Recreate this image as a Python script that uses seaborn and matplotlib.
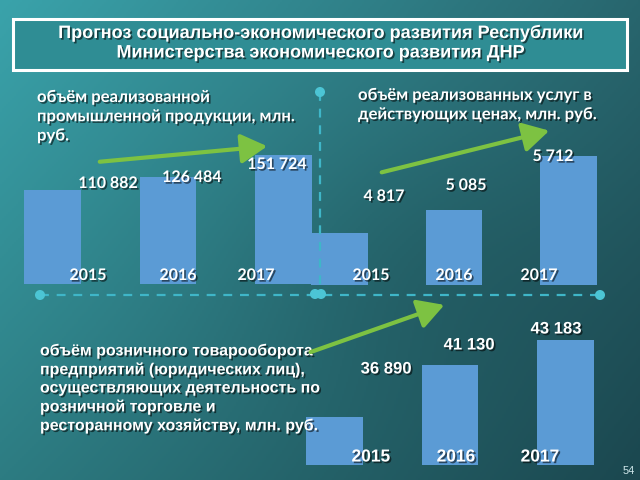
import numpy as np
import pandas as pd
import matplotlib
matplotlib.use("Agg")
import matplotlib.pyplot as plt
import matplotlib.patheffects as pe
from matplotlib.patches import Rectangle, FancyArrowPatch, Circle
from matplotlib.colors import to_rgb
import seaborn as sns

# ---------------- data ----------------
years = ["2015", "2016", "2017"]
industry = [110882, 126484, 151724]
services = [4817, 5085, 5712]
retail = [36890, 41130, 43183]
industry_labels = ["110 882", "126 484", "151 724"]
services_labels = ["4 817", "5 085", "5 712"]
retail_labels = ["36 890", "41 130", "43 183"]

title_lines = ["Прогноз социально-экономического развития Республики",
               "Министерства экономического развития ДНР"]
industry_title = "объём реализованной\nпромышленной продукции, млн.\nруб."
services_title = "объём реализованных услуг в\nдействующих ценах, млн. руб."
retail_title = ("объём розничного товарооборота\nпредприятий (юридических лиц),\n"
                "осуществляющих деятельность по\nрозничной торговле и\n"
                "ресторанному хозяйству, млн. руб.")
page_no = "54"

sns.set_theme(style="white")
W, H = 640, 480
fig = plt.figure(figsize=(6.4, 4.8), dpi=100)

# ---------------- background gradient ----------------
bg = fig.add_axes([0, 0, 1, 1], zorder=0)
tl, tr, bl, br = (np.array(to_rgb(c)) for c in ["#3aa3ab", "#28666e", "#2d7c82", "#1b474f"])
xx, yy = np.meshgrid(np.linspace(0, 1, 320), np.linspace(0, 1, 240))
img = ((1 - xx)[..., None] * (1 - yy)[..., None] * tl + xx[..., None] * (1 - yy)[..., None] * tr
       + (1 - xx)[..., None] * yy[..., None] * bl + xx[..., None] * yy[..., None] * br)
img *= (1 - 0.08 * np.exp(-((xx - 0.65) ** 2 + (yy - 0.55) ** 2) / 0.08))[..., None]
bg.imshow(np.clip(img, 0, 1), extent=[0, W, H, 0], aspect="auto")
bg.set_xlim(0, W); bg.set_ylim(H, 0); bg.axis("off")

BAR = "#5b9bd5"
SANS = ["Lato", "DejaVu Sans"]
NARROW = ["Liberation Sans", "DejaVu Sans"]
shadow = [pe.withSimplePatchShadow(offset=(1.2, -1.2), shadow_rgbFace="black", alpha=0.55)]


def bar_panel(values, c0, step, bottom_px, base, per_px, height_px=160):
    left = c0 - 0.5 * step
    width = 3 * step
    ax = fig.add_axes([left / W, (H - bottom_px) / H, width / W, height_px / H], zorder=2)
    ax.patch.set_alpha(0)
    df = pd.DataFrame({"year": years, "value": values})
    sns.barplot(data=df, x="year", y="value", color=BAR, saturation=1, width=0.49,
                linewidth=0, edgecolor="none", ax=ax)
    ax.set_xlim(-0.5, 2.5)
    ax.set_ylim(base, base + height_px * per_px)
    ax.axis("off")
    return ax


bar_panel(industry, 52.5, 115.5, 284, 0, 1180)
bar_panel(services, 339.5, 114.5, 285, 4214, 11.6)
bar_panel(retail, 334.5, 115.5, 465, 32968, 81.7)

# ---------------- overlay (pixel coordinates) ----------------
ov = fig.add_axes([0, 0, 1, 1], zorder=5)
ov.set_xlim(0, W); ov.set_ylim(H, 0); ov.axis("off"); ov.patch.set_alpha(0)

# title box
ov.add_patch(Rectangle((15, 21), 614, 51, facecolor="black", alpha=0.25, lw=0))
ov.add_patch(Rectangle((13, 19), 614, 51, facecolor="#2f8d94", edgecolor="white", lw=2.2))
for i, line in enumerate(title_lines):
    ov.text(320, 33 + i * 20, line, ha="center", va="center", color="white",
            fontsize=13, fontweight="bold", family=NARROW, path_effects=shadow)

# dashed guide lines
DASH = "#3fb6c8"
ov.plot([40, 600], [295, 295], color=DASH, lw=1.6, dashes=(4, 3.5))
ov.plot([320, 320], [92, 295], color=DASH, lw=1.6, dashes=(4, 3.5))
for (x, y) in [(40, 295), (600, 295), (320, 92), (315, 294), (321, 294)]:
    ov.add_patch(Circle((x, y), 4.3, color="#4cc5d5", zorder=6))

# panel titles
ov.text(37, 89, industry_title, ha="left", va="top", color="white", fontsize=12,
        fontweight="bold", family=SANS, linespacing=1.25, path_effects=shadow)
ov.text(358, 87, services_title, ha="left", va="top", color="white", fontsize=12,
        fontweight="bold", family=SANS, linespacing=1.25, path_effects=shadow)
ov.text(40, 343, retail_title, ha="left", va="top", color="white", fontsize=11.5,
        fontweight="bold", family=NARROW, linespacing=1.27, path_effects=shadow)

# value labels
for (x, y), s in zip([(108, 184), (192, 178), (277, 165)], industry_labels):
    ov.text(x, y, s, ha="center", va="center", color="white", fontsize=11.5,
            fontweight="bold", family=SANS, path_effects=shadow)
for (x, y), s in zip([(384, 197), (466, 186), (553, 157)], services_labels):
    ov.text(x, y, s, ha="center", va="center", color="white", fontsize=11.5,
            fontweight="bold", family=SANS, path_effects=shadow)
for (x, y), s in zip([(386, 369), (469, 345), (556, 329)], retail_labels):
    ov.text(x, y, s, ha="center", va="center", color="white", fontsize=12,
            fontweight="bold", family=NARROW, path_effects=shadow)

# year labels
for xs, y, fam, fs in [([88, 178, 256], 276, SANS, 11.5),
                       ([371, 454, 539], 276, SANS, 11.5),
                       ([371, 456, 540], 457, NARROW, 12.5)]:
    for x, yr in zip(xs, years):
        ov.text(x, y, yr, ha="center", va="center", color="white", fontsize=fs,
                fontweight="bold", family=fam, path_effects=shadow)

# green trend arrows
GREEN = "#7dc242"
for p0, p1 in [((97, 162), (270, 146)), ((379, 173), (552, 130)), ((308, 353), (447, 304))]:
    ov.add_patch(FancyArrowPatch(p0, p1, arrowstyle="-|>,head_length=0.8,head_width=0.45",
                                 mutation_scale=20, color=GREEN, lw=3, zorder=7))

ov.text(629, 471, page_no, ha="center", va="center", color="#cfe6ea", fontsize=8,
        family=NARROW)

fig.savefig("out.png", dpi=100)
